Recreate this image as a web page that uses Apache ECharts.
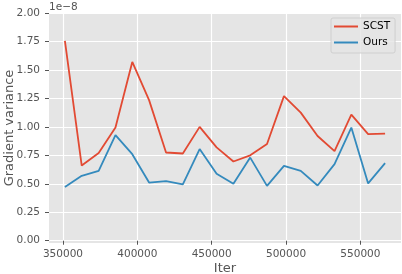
<!DOCTYPE html>
<html>
<head>
<meta charset="utf-8">
<script src="https://cdn.jsdelivr.net/npm/echarts@6/dist/echarts.min.js"></script>
<style>
html,body{margin:0;padding:0;background:#fff;}
#c{width:402px;height:274px;}
</style>
</head>
<body>
<div id="c"></div>
<script>
// Iterations (x) and gradient variance (in units of 1e-8)
var iters = [351300, 362600, 374000, 385300, 396600, 407900, 419300, 430600, 441900, 453300,
             464600, 475900, 487200, 498600, 509900, 521200, 532600, 543900, 555200, 566600];
var scst = [1.755, 0.66, 0.77, 0.994, 1.57, 1.235, 0.775, 0.766, 1.0, 0.82,
            0.696, 0.75, 0.85, 1.27, 1.125, 0.92, 0.787, 1.108, 0.936, 0.941];
var ours = [0.471, 0.57, 0.614, 0.927, 0.76, 0.511, 0.524, 0.494, 0.805, 0.588,
            0.50, 0.73, 0.482, 0.658, 0.614, 0.485, 0.673, 0.994, 0.503, 0.682];
var xTicks = [350000, 400000, 450000, 500000, 550000];
var yTicks = [0, 0.25, 0.5, 0.75, 1.0, 1.25, 1.5, 1.75, 2.0];
var seriesNames = ['SCST', 'Ours'];

function pairs(xs, ys) { return xs.map(function (x, i) { return [x, ys[i]]; }); }

var FONT = 'DejaVu Sans';
var chart = echarts.init(document.getElementById('c'), null, {renderer: 'canvas'});
chart.setOption({
  animation: false,
  backgroundColor: '#ffffff',
  grid: {left: 49, right: 1, top: 13, bottom: 31, containLabel: false, outerBoundsMode: 'none',
         show: true, backgroundColor: '#E5E5E5', borderWidth: 0},
  xAxis: {
    type: 'value', min: 340600, max: 577300,
    name: 'Iter', nameLocation: 'middle', nameGap: 19, nameMoveOverlap: false,
    nameTextStyle: {fontFamily: FONT, fontSize: 13, color: '#555555'},
    axisLine: {show: false},
    axisTick: {show: true, length: 4, customValues: xTicks, lineStyle: {color: '#555555', width: 1}},
    axisLabel: {customValues: xTicks, margin: 6, fontFamily: FONT, fontSize: 10.5, color: '#555555',
                formatter: function (v) { return String(v); }},
    splitLine: {show: true, lineStyle: {color: '#ffffff', width: 1.2}}
  },
  yAxis: {
    type: 'value', min: -0.02, max: 2.0,
    name: 'Gradient variance', nameLocation: 'middle', nameGap: 33, nameRotate: 90, nameMoveOverlap: false,
    nameTextStyle: {fontFamily: FONT, fontSize: 13, color: '#555555'},
    axisLine: {show: false},
    axisTick: {show: true, length: 4, customValues: yTicks, lineStyle: {color: '#555555', width: 1}},
    axisLabel: {customValues: yTicks, margin: 9, fontFamily: FONT, fontSize: 10.5, color: '#555555',
                formatter: function (v) { return v.toFixed(2); }},
    splitLine: {show: true, lineStyle: {color: '#ffffff', width: 1.2}}
  },
  legend: {
    orient: 'vertical', left: 331, top: 18,
    padding: [2, 5, 4, 3], itemGap: 3, itemWidth: 24, itemHeight: 2,
    icon: 'rect',
    backgroundColor: 'rgba(229,229,229,0.8)', borderColor: 'rgba(204,204,204,0.9)',
    borderWidth: 1, borderRadius: 2,
    textStyle: {fontFamily: FONT, fontSize: 10.5, color: '#000000', lineHeight: 13},
    data: seriesNames
  },
  graphic: [{
    type: 'text', left: 49, top: 2,
    style: {text: '1e\u22128', fontFamily: FONT, fontSize: 10.5, fill: '#555555'}
  }],
  series: [
    {name: seriesNames[0], type: 'line', data: pairs(iters, scst), symbol: 'none',
     color: '#E24A33', lineStyle: {color: '#E24A33', width: 1.8}},
    {name: seriesNames[1], type: 'line', data: pairs(iters, ours), symbol: 'none',
     color: '#348ABD', lineStyle: {color: '#348ABD', width: 1.8}}
  ]
});
</script>
</body>
</html>
